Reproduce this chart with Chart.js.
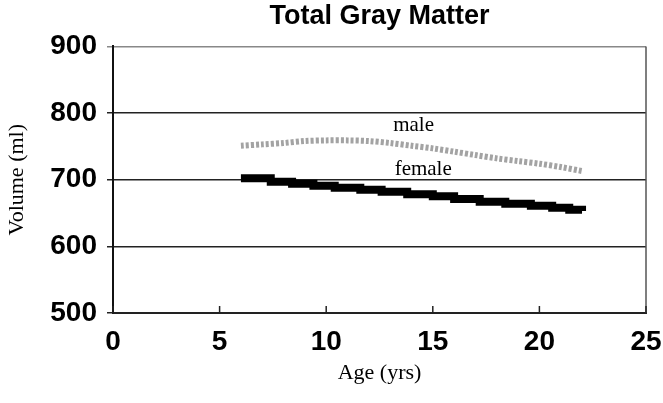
<!DOCTYPE html>
<html>
<head>
<meta charset="utf-8">
<script src="https://cdn.jsdelivr.net/npm/chart.js@4"></script>
<style>
  html, body { margin: 0; padding: 0; background: #fff; }
  #wrap { width: 663px; height: 403px; }
</style>
</head>
<body>
<div id="wrap"><canvas id="grafico"></canvas></div>
<script>
// datos
var edadHombre = [6, 7, 8, 9, 10, 11, 12, 13, 14, 15, 16, 17, 18, 19, 20, 21, 22];
var volHombre = [751, 753, 755, 758, 759, 759, 758, 755, 751, 747, 742, 737, 732, 728, 724, 719, 713];
var edadMujer = [6, 7.4, 8.4, 9.4, 10.4, 11.6, 12.6, 13.8, 15, 16, 17.2, 18.4, 19.6, 20.6, 21.4, 22];
var volMujer = [702, 697, 694, 691, 688, 685, 682, 678, 675, 671, 667, 664, 661, 658, 655, 653];
var ticksX = [0, 5, 10, 15, 20, 25];
var ticksY = [500, 600, 700, 800, 900];

function puntos(xs, ys) {
  return xs.map(function (x, i) { return { x: x, y: ys[i] }; });
}

// marco, marcas del eje x hacia adentro y etiquetas de las series
var extras = {
  id: 'extras',
  afterDraw: function (chart) {
    var ctx = chart.ctx;
    var a = chart.chartArea;
    var sx = chart.scales.x, sy = chart.scales.y;
    ctx.save();
    ctx.strokeStyle = '#555';
    ctx.lineWidth = 1.5;
    ctx.beginPath();
    ctx.moveTo(a.right, a.top);
    ctx.lineTo(a.right, a.bottom);
    ctx.stroke();
    ctx.strokeStyle = '#222';
    ctx.lineWidth = 1.5;
    ticksX.forEach(function (t) {
      var px = sx.getPixelForValue(t);
      ctx.beginPath();
      ctx.moveTo(px, a.bottom);
      ctx.lineTo(px, a.bottom - 7);
      ctx.stroke();
    });
    ctx.fillStyle = '#000';
    ctx.font = '21px "Liberation Serif", "Times New Roman", serif';
    ctx.textAlign = 'center';
    ctx.textBaseline = 'middle';
    ctx.fillText('male', sx.getPixelForValue(14.1), sy.getPixelForValue(781));
    ctx.fillText('female', sx.getPixelForValue(14.55), sy.getPixelForValue(716));
    ctx.restore();
  }
};

new Chart(document.getElementById('grafico'), {
  type: 'line',
  data: {
    datasets: [{
      label: 'male',
      data: puntos(edadHombre, volHombre),
      borderColor: '#a3a3a3',
      borderWidth: 6,
      borderDash: [3, 2],
      pointRadius: 0,
      tension: 0.3
    }, {
      label: 'female',
      data: puntos(edadMujer, volMujer),
      borderColor: '#000',
      borderWidth: 8,
      stepped: 'before',
      pointRadius: 0
    }]
  },
  plugins: [extras],
  options: {
    responsive: true,
    maintainAspectRatio: false,
    animation: false,
    layout: { padding: 0 },
    plugins: {
      legend: { display: false },
      tooltip: { enabled: false },
      title: {
        display: true,
        fullSize: false,
        text: 'Total Gray Matter',
        color: '#000',
        font: { family: '"Liberation Sans", Arial, sans-serif', size: 27, weight: 'bold' },
        padding: { top: 0, bottom: 14 }
      }
    },
    scales: {
      x: {
        type: 'linear',
        min: 0,
        max: 25,
        afterBuildTicks: function (s) { s.ticks = ticksX.map(function (v) { return { value: v }; }); },
        afterFit: function (s) { s.height = 90; s.paddingRight = 17; s.paddingLeft = 0; },
        grid: { drawOnChartArea: false, drawTicks: false },
        border: { color: '#222', width: 2 },
        ticks: {
          color: '#000',
          padding: 12,
          font: { family: '"Liberation Sans", Arial, sans-serif', size: 28, weight: 'bold' }
        },
        title: {
          display: true,
          text: 'Age (yrs)',
          color: '#000',
          font: { family: '"Liberation Serif", "Times New Roman", serif', size: 22 },
          padding: { top: 0, bottom: 17 }
        }
      },
      y: {
        min: 500,
        max: 900,
        afterBuildTicks: function (s) { s.ticks = ticksY.map(function (v) { return { value: v }; }); },
        afterFit: function (s) { s.width = 113; },
        grid: {
          color: function (c) { return c.tick && c.tick.value === 900 ? '#888' : '#222'; },
          lineWidth: 1.5,
          tickLength: 6
        },
        border: { color: '#111', width: 2 },
        ticks: {
          color: '#000',
          padding: 10,
          font: { family: '"Liberation Sans", Arial, sans-serif', size: 28, weight: 'bold' }
        },
        title: {
          display: true,
          text: 'Volume (ml)',
          color: '#000',
          font: { family: '"Liberation Serif", "Times New Roman", serif', size: 22 },
          padding: { top: 4, bottom: 0 }
        }
      }
    }
  }
});
</script>
</body>
</html>
